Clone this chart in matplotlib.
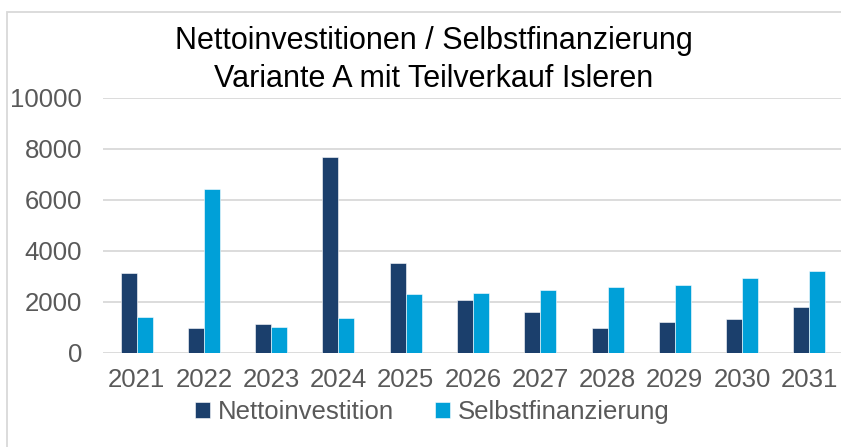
import matplotlib
matplotlib.use("Agg")
import matplotlib.pyplot as plt
import numpy as np
from matplotlib.patches import Rectangle

years = ["2021", "2022", "2023", "2024", "2025", "2026", "2027", "2028", "2029", "2030", "2031"]
netto = [3110, 980, 1110, 7660, 3500, 2070, 1600, 960, 1190, 1310, 1790]
selbst = [1390, 6420, 1010, 1360, 2300, 2350, 2450, 2570, 2640, 2930, 3190]

NAVY = "#1b3f6c"
LIGHT = "#00a0d8"
GRID = "#d9d9d9"
TXT = "#595959"

plt.rcParams["font.family"] = ["Liberation Sans", "DejaVu Sans"]

fig = plt.figure(figsize=(8.41, 4.47), dpi=100)
ax = fig.add_axes([103 / 841, 94.3 / 447, 740 / 841, 255 / 447])

x = np.arange(len(years))
w = 0.238
ax.bar(x - w / 2, netto, w, color=NAVY, edgecolor="white", linewidth=0.4,
       label="Nettoinvestition", zorder=3)
ax.bar(x + w / 2, selbst, w, color=LIGHT, edgecolor="white", linewidth=0.4,
       label="Selbstfinanzierung", zorder=3)

ax.set_xlim(-0.5, len(years) - 0.5)
ax.set_ylim(0, 10000)
ax.set_yticks(np.arange(0, 10001, 2000))
ax.set_xticks(x)
ax.set_xticklabels(years)
ax.grid(axis="y", color=GRID, linewidth=1.3, zorder=0)
ax.tick_params(axis="both", length=0, labelsize=18.5, colors=TXT)
ax.tick_params(axis="y", pad=15)
ax.tick_params(axis="x", pad=11)
for s in ax.spines.values():
    s.set_visible(False)

# chart area border (cropped at right and bottom)
fig.patches.append(Rectangle((7 / 841, -0.1), 2, (447 - 12) / 447 + 0.1,
                             transform=fig.transFigure, fill=False,
                             edgecolor=GRID, linewidth=1.3))

fig.text(0.516, 1 - 49.5 / 447, "Nettoinvestitionen / Selbstfinanzierung",
         ha="center", va="baseline", fontsize=22, color="#000000")
fig.text(0.516, 1 - 87.2 / 447, "Variante A mit Teilverkauf Isleren",
         ha="center", va="baseline", fontsize=22, color="#000000")

leg = fig.legend(loc="center", bbox_to_anchor=(0.514, 0.078), ncol=2,
                 frameon=False, fontsize=18.5, handlelength=0.6, handleheight=0.6,
                 handletextpad=0.3, columnspacing=1.6)
for t in leg.get_texts():
    t.set_color(TXT)

fig.savefig("out.png", dpi=100)
